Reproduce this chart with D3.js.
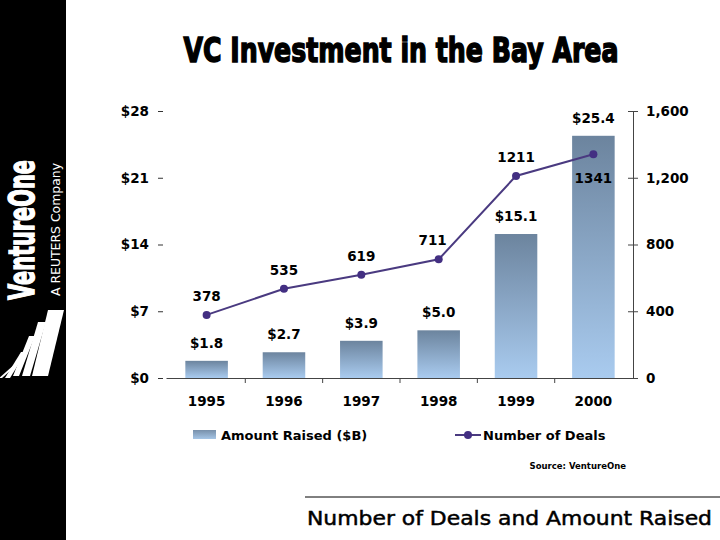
<!DOCTYPE html>
<html>
<head>
<meta charset="utf-8">
<script src="https://cdnjs.cloudflare.com/ajax/libs/d3/7.8.5/d3.min.js"></script>
<style>
  body { margin: 0; background: #fff; }
  text { font-family: "DejaVu Sans", Verdana, sans-serif; }
</style>
</head>
<body>
<div id="chart-area"></div>
<script>
// data
const years = ['1995', '1996', '1997', '1998', '1999', '2000'];
const amountRaised = [1.8, 2.7, 3.9, 5.0, 15.1, 25.4];
const numDeals = [378, 535, 619, 711, 1211, 1341];
const leftTicks = [0, 7, 14, 21, 28];
const rightTicks = [0, 400, 800, 1200, 1600];

const margin = { left: 162, right: 87, top: 111, bottom: 162 };
const width = 720 - margin.left - margin.right;
const height = 540 - margin.top - margin.bottom;

const svg = d3.select('#chart-area').append('svg')
  .attr('width', 720)
  .attr('height', 540);

// left black band with logo
svg.append('rect')
  .attr('x', 0).attr('y', 0)
  .attr('width', 66).attr('height', 540)
  .attr('fill', '#000');

svg.append('text')
  .attr('transform', 'translate(34,300) rotate(-90)')
  .attr('fill', '#fff')
  .attr('stroke', '#fff')
  .attr('stroke-width', 1.5)
  .attr('font-family', '"DejaVu Sans", sans-serif')
  .attr('font-weight', 'bold')
  .attr('font-size', '36px')
  .attr('textLength', 140)
  .attr('lengthAdjust', 'spacingAndGlyphs')
  .text('VentureOne');

svg.append('text')
  .attr('transform', 'translate(60,296) rotate(-90)')
  .attr('fill', '#fff')
  .attr('font-family', '"Liberation Sans", Arial, sans-serif')
  .attr('font-size', '11.5px')
  .attr('textLength', 133)
  .attr('lengthAdjust', 'spacingAndGlyphs')
  .text('A REUTERS Company');

// stripe mark under the logo
const stripes = [
  { x: 38, y: 310, w: 16, h: 66 },
  { x: 28, y: 322, w: 8, h: 54 },
  { x: 19, y: 336, w: 6, h: 40 },
  { x: 11, y: 352, w: 5, h: 26 },
  { x: 5, y: 364, w: 3, h: 14 }
];
svg.selectAll('.stripe')
  .data(stripes)
  .enter().append('path')
    .attr('class', 'stripe')
    .attr('fill', '#fff')
    .attr('d', d => `M${d.x + 10},${d.y} L${d.x + 10 + d.w},${d.y} L${d.x + d.w - 6},${d.y + d.h} L${d.x - 6},${d.y + d.h} Z`);

// title (squeezed horizontally to mimic a condensed heavy face)
svg.append('text')
  .attr('transform', 'translate(401,62) scale(0.742,1)')
  .attr('text-anchor', 'middle')
  .attr('font-family', '"DejaVu Sans", sans-serif')
  .attr('font-weight', 'bold')
  .attr('font-size', '34px')
  .attr('stroke', '#000')
  .attr('stroke-width', 1.6)
  .attr('fill', '#000')
  .text('VC Investment in the Bay Area');

const chart = svg.append('g')
  .attr('transform', `translate(${margin.left},${margin.top})`);

// scales
const x = d3.scaleBand()
  .domain(years)
  .range([4, width + 1])
  .paddingInner(0.45)
  .paddingOuter(0.25);

const yLeft = d3.scaleLinear()
  .domain([0, 28])
  .range([height, 0]);

const yRight = d3.scaleLinear()
  .domain([0, 1600])
  .range([height, 0]);

// gradient for bars
const defs = svg.append('defs');
const grad = defs.append('linearGradient')
  .attr('id', 'barGrad')
  .attr('x1', 0).attr('y1', 0).attr('x2', 0).attr('y2', 1);
grad.append('stop').attr('offset', '0%').attr('stop-color', '#6c849e');
grad.append('stop').attr('offset', '100%').attr('stop-color', '#a9cbef');

const gradH = defs.append('linearGradient')
  .attr('id', 'barGradH')
  .attr('x1', 0).attr('y1', 0).attr('x2', 0).attr('y2', 1);
gradH.append('stop').attr('offset', '0%').attr('stop-color', '#7890aa');
gradH.append('stop').attr('offset', '100%').attr('stop-color', '#a5c5e6');

// left axis
const leftAxis = chart.append('g')
  .call(d3.axisLeft(yLeft)
    .tickValues(leftTicks)
    .tickSize(5)
    .tickPadding(8)
    .tickFormat(d => '$' + d));
leftAxis.select('.domain').remove();
leftAxis.selectAll('.tick line').attr('stroke', '#333').attr('transform', 'translate(1,0)');
leftAxis.selectAll('.tick text')
  .attr('font-size', '13.5px')
  .attr('font-weight', 'bold')
  .attr('font-family', '"DejaVu Sans", sans-serif')
  .attr('fill', '#000');

// right axis
const rightAxis = chart.append('g')
  .attr('transform', `translate(${width},0)`)
  .call(d3.axisRight(yRight)
    .tickValues(rightTicks)
    .tickSizeInner(5)
    .tickSizeOuter(0)
    .tickPadding(8)
    .tickFormat(d3.format(',')));
rightAxis.select('.domain').attr('stroke', '#444');
rightAxis.selectAll('.tick line').attr('x1', -5).attr('stroke', '#444');
rightAxis.selectAll('.tick text')
  .attr('font-size', '13.5px')
  .attr('font-weight', 'bold')
  .attr('font-family', '"DejaVu Sans", sans-serif')
  .attr('fill', '#000');

// bars
chart.selectAll('.bar')
  .data(amountRaised)
  .enter().append('rect')
    .attr('class', 'bar')
    .attr('x', (d, i) => x(years[i]))
    .attr('width', x.bandwidth())
    .attr('y', d => yLeft(d))
    .attr('height', d => height - yLeft(d))
    .attr('fill', 'url(#barGrad)');

// bottom axis
const step = x.step();
const xAxis = chart.append('g')
  .attr('transform', `translate(0,${height})`)
  .call(d3.axisBottom(x).tickSize(0).tickPadding(18));
xAxis.select('.domain').attr('stroke', '#444');
xAxis.selectAll('.tick text')
  .attr('font-size', '13.5px')
  .attr('font-weight', 'bold')
  .attr('font-family', '"DejaVu Sans", sans-serif')
  .attr('fill', '#000');
xAxis.selectAll('.sep')
  .data(years.slice(1))
  .enter().append('line')
    .attr('class', 'sep')
    .attr('x1', d => x(d) - (step - x.bandwidth()) / 2)
    .attr('x2', d => x(d) - (step - x.bandwidth()) / 2)
    .attr('y1', 0).attr('y2', 5)
    .attr('stroke', '#444');

// bar labels
chart.selectAll('.bar-label')
  .data(amountRaised)
  .enter().append('text')
    .attr('class', 'bar-label')
    .attr('x', (d, i) => x(years[i]) + x.bandwidth() / 2)
    .attr('y', d => yLeft(d) - 13)
    .attr('text-anchor', 'middle')
    .attr('font-size', '13.5px')
    .attr('font-weight', 'bold')
    .text(d => '$' + d.toFixed(1));

// line
const line = d3.line()
  .x((d, i) => x(years[i]) + x.bandwidth() / 2)
  .y(d => yRight(d));

chart.append('path')
  .datum(numDeals)
  .attr('fill', 'none')
  .attr('stroke', '#4a3a80')
  .attr('stroke-width', 2)
  .attr('d', line);

chart.selectAll('.dot')
  .data(numDeals)
  .enter().append('circle')
    .attr('class', 'dot')
    .attr('cx', (d, i) => x(years[i]) + x.bandwidth() / 2)
    .attr('cy', d => yRight(d))
    .attr('r', 4)
    .attr('fill', '#432f82');

chart.selectAll('.deal-label')
  .data(numDeals)
  .enter().append('text')
    .attr('class', 'deal-label')
    .attr('x', (d, i) => x(years[i]) + x.bandwidth() / 2 + (i === 3 ? -6 : 0))
    .attr('y', (d, i) => i === numDeals.length - 1 ? yRight(d) + 29 : yRight(d) - 14)
    .attr('text-anchor', 'middle')
    .attr('font-size', '13.5px')
    .attr('font-weight', 'bold')
    .attr('fill', '#000')
    .text(d => d);

// legend
const legend = svg.append('g');
legend.append('rect')
  .attr('x', 193).attr('y', 430)
  .attr('width', 23).attr('height', 9)
  .attr('fill', 'url(#barGradH)');
legend.append('text')
  .attr('x', 221).attr('y', 440)
  .attr('font-size', '13px')
  .attr('font-weight', 'bold')
  .text('Amount Raised ($B)');
legend.append('line')
  .attr('x1', 455).attr('x2', 481)
  .attr('y1', 435).attr('y2', 435)
  .attr('stroke', '#4a3a80').attr('stroke-width', 2);
legend.append('circle')
  .attr('cx', 468).attr('cy', 435).attr('r', 4)
  .attr('fill', '#432f82');
legend.append('text')
  .attr('x', 483).attr('y', 440)
  .attr('font-size', '13px')
  .attr('font-weight', 'bold')
  .text('Number of Deals');

// source
svg.append('text')
  .attr('x', 626).attr('y', 469)
  .attr('text-anchor', 'end')
  .attr('font-size', '8.5px')
  .attr('font-weight', 'bold')
  .text('Source: VentureOne');

// footer
svg.append('line')
  .attr('x1', 305).attr('x2', 720)
  .attr('y1', 497).attr('y2', 497)
  .attr('stroke', '#000').attr('stroke-width', 1);
svg.append('text')
  .attr('x', 307).attr('y', 525)
  .attr('font-size', '20px')
  .attr('stroke', '#000')
  .attr('stroke-width', 0.5)
  .attr('textLength', 405)
  .attr('lengthAdjust', 'spacingAndGlyphs')
  .text('Number of Deals and Amount Raised');
</script>
</body>
</html>
